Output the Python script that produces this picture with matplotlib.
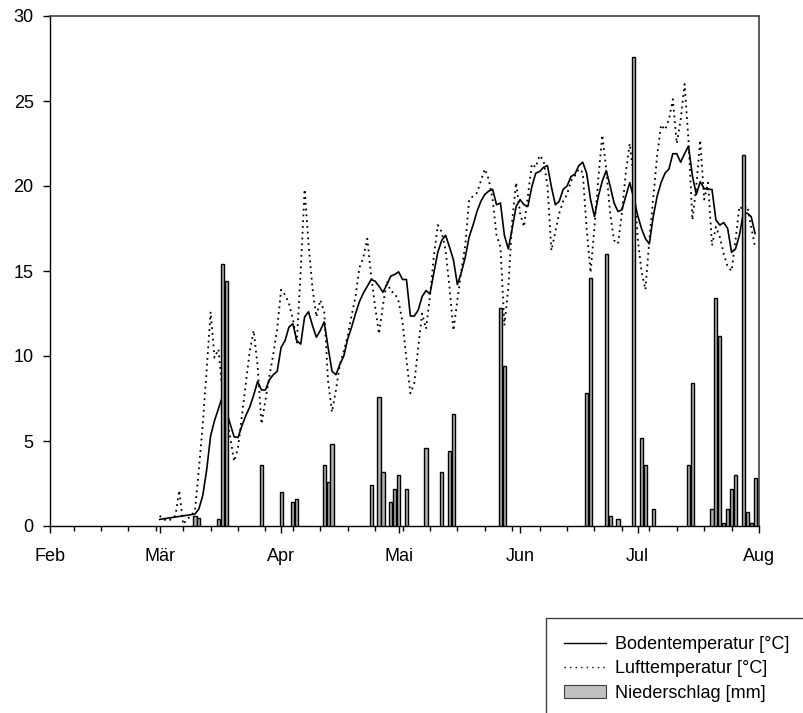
import numpy as np
import pandas as pd
import matplotlib
matplotlib.use('Agg')
import matplotlib.pyplot as plt
import matplotlib.dates as mdates
from matplotlib.patches import Patch
from matplotlib.lines import Line2D

plt.rcParams['font.family'] = ['Liberation Sans', 'DejaVu Sans']

# all x values are days counted from 1 Feb
start = pd.Timestamp('2003-02-01')

month_labels = ['Feb', 'Mär', 'Apr', 'Mai', 'Jun', 'Jul', 'Aug']

rain_day = [37, 38, 43, 44, 45, 54, 59, 62, 63, 70, 71, 72, 82, 84, 85, 87, 88,
            89, 91, 96, 100, 102, 103, 115, 116, 137, 138, 142, 143, 145, 149,
            151, 152, 154, 163, 164, 169, 170, 171, 172, 173, 174, 175, 177,
            178, 179, 180]
rain_mm = [0.6, 0.45, 0.4, 15.4, 14.4, 3.6, 2.0, 1.4, 1.6, 3.6, 2.6, 4.8, 2.4,
           7.6, 3.2, 1.4, 2.2, 3.0, 2.2, 4.6, 3.2, 4.4, 6.6, 12.8, 9.4, 7.8,
           14.6, 16.0, 0.6, 0.4, 27.6, 5.2, 3.6, 1.0, 3.6, 8.4, 1.0, 13.4, 11.2,
           0.2, 1.0, 2.2, 3.0, 21.8, 0.8, 0.2, 2.8]

soil_day = np.r_[28, np.arange(37, 181)]
soil_temp = [0.39,
             0.7, 1.0, 1.8, 3.3, 5.3, 6.2, 6.9, 7.6, 6.8, 6.0, 5.25, 5.2, 5.9,
             6.5, 7.0, 7.7, 8.5, 8.0, 8.0, 8.6, 8.9, 9.1, 10.5, 10.9, 11.7,
             11.9, 10.9, 10.7, 12.3, 12.6, 11.8, 11.1, 11.5, 12.0, 10.5, 9.1,
             8.9, 9.5, 10.0, 11.0, 11.7, 12.5, 13.2, 13.7, 14.1, 14.5, 14.4,
             14.1, 13.75, 14.2, 14.7, 14.8, 14.95, 14.5, 14.5, 12.35, 12.35,
             12.7, 13.5, 13.85, 13.65, 14.9, 16.1, 16.8, 17.1, 16.4, 15.65,
             14.2, 14.9, 15.8, 17.0, 17.7, 18.5, 19.1, 19.5, 19.7, 19.8, 18.9,
             19.0, 17.1, 16.3, 17.5, 18.8, 19.2, 18.9, 18.8, 19.95, 20.75,
             20.85, 21.1, 21.2, 19.95, 18.9, 19.1, 19.8, 20.0, 20.55, 20.7,
             21.2, 21.4, 20.75, 19.2, 18.2, 19.4, 20.3, 20.9, 20.0, 19.0, 18.5,
             18.6, 19.4, 20.2, 19.3, 18.3, 17.5, 16.9, 16.6, 18.2, 19.4, 20.2,
             20.75, 21.0, 21.9, 21.9, 21.4, 21.9, 22.35, 20.6, 19.5, 20.25,
             19.85, 19.8, 19.8, 18.0, 17.7, 17.85, 17.5, 16.1, 16.3, 17.1,
             18.4, 18.4, 18.2, 17.2]

air_day = np.arange(28, 181)
air_temp = [0.6, 0.4, 0.3, 0.4, 0.6, 2.1, 0.1, 0.4, 0.6, 0.9, 3.3, 6.0, 9.2,
            12.6, 9.9, 10.4, 8.0, 6.5, 5.25, 3.8, 4.6, 6.5, 8.4, 10.3, 11.5,
            9.4, 6.0, 7.4, 8.8, 10.1, 11.6, 13.9, 13.6, 13.1, 12.2, 10.75,
            15.0, 19.8, 16.6, 14.0, 12.3, 13.3, 12.6, 8.5, 6.7, 8.0, 9.5, 10.3,
            11.2, 12.4, 13.5, 15.2, 15.8, 16.9, 14.7, 12.9, 11.3, 13.0, 14.4,
            13.8, 13.7, 13.2, 12.0, 9.8, 7.8, 8.4, 10.5, 12.5, 11.6, 13.5,
            15.9, 17.7, 17.3, 16.2, 14.0, 11.5, 13.3, 15.0, 16.5, 19.2, 19.4,
            19.6, 20.3, 21.0, 20.4, 19.2, 17.1, 16.4, 11.8, 14.0, 18.0, 20.2,
            18.4, 17.6, 19.4, 21.3, 21.1, 21.8, 21.5, 20.0, 16.2, 17.3, 18.4,
            19.1, 19.5, 20.3, 20.6, 21.0, 20.8, 17.5, 14.9, 17.6, 20.5, 23.0,
            21.0, 18.4, 16.8, 16.6, 18.4, 20.8, 22.5, 20.5, 17.0, 15.0, 13.9,
            16.8, 19.3, 21.8, 23.6, 23.3, 23.9, 25.1, 22.5, 23.9, 26.0, 22.7,
            18.0, 20.0, 22.7, 19.2, 20.2, 16.5, 17.6, 17.0, 16.0, 15.25, 15.0,
            16.8, 18.8, 18.6, 18.8, 17.6, 16.4]


def to_dates(days):
    return start + pd.to_timedelta(np.asarray(days), unit='D')


fig = plt.figure(figsize=(8.04, 7.13), dpi=100)
ax = fig.add_axes([50 / 804, 1 - 526 / 713, 709 / 804, 510 / 713])

ax.plot(to_dates(soil_day), soil_temp, color='black', lw=1.2, zorder=2)
ax.plot(to_dates(air_day), air_temp, color='black', lw=1.3,
        linestyle=(0, (1, 2.2)), zorder=2)
ax.bar(to_dates(rain_day), rain_mm, width=0.8, color='#b0b0b0',
       edgecolor='black', linewidth=1.0, zorder=3)

month_starts = pd.date_range('2003-02-01', '2003-08-01', freq='MS')
ax.set_xlim(month_starts[0], month_starts[-1])
ax.set_xticks(month_starts)
ax.set_xticklabels(month_labels)
ax.xaxis.set_minor_locator(mdates.WeekdayLocator(byweekday=mdates.FR))
ax.set_ylim(0, 30)
ax.set_yticks(range(0, 31, 5))

ax.tick_params(axis='both', which='major', direction='out', length=5.2,
               width=1, labelsize=13, color='black')
ax.tick_params(axis='x', which='major', pad=10.5)
ax.tick_params(axis='y', which='major', pad=6.5)
ax.tick_params(axis='x', which='minor', direction='out', length=3.3, width=1)

for side in ['left', 'bottom']:
    ax.spines[side].set_color('black')
    ax.spines[side].set_linewidth(1)
for side in ['top', 'right']:
    ax.spines[side].set_color('#404040')
    ax.spines[side].set_linewidth(1.2)

handles = [Line2D([], [], color='black', lw=1),
           Line2D([], [], color='black', lw=1, linestyle=(0, (1, 3))),
           Patch(facecolor='#c0c0c0', edgecolor='#404040', linewidth=0.8)]
labels = ['Bodentemperatur [°C]', 'Lufttemperatur [°C]', 'Niederschlag [mm]']
leg = fig.legend(handles, labels, loc='upper left',
                 bbox_to_anchor=(546 / 804, 1 - 618 / 713), fontsize=13,
                 frameon=True, fancybox=False, framealpha=1, edgecolor='#404040',
                 borderpad=1.0, labelspacing=0.4, handlelength=2.3,
                 handletextpad=0.5, borderaxespad=0)
leg.get_frame().set_linewidth(1)

fig.savefig('out.png', dpi=100)
